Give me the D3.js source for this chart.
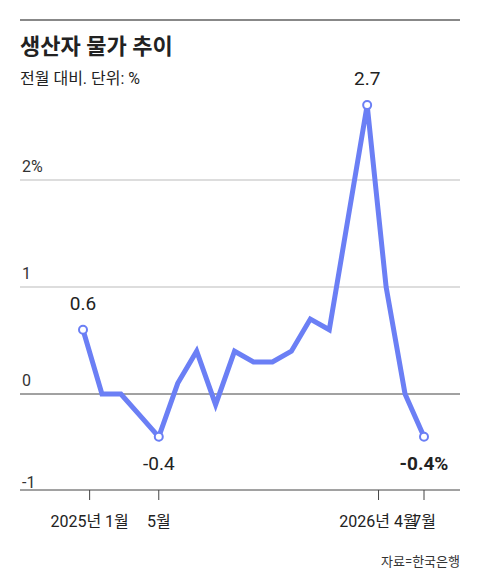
<!DOCTYPE html>
<html><head><meta charset="utf-8">
<script src="https://cdn.jsdelivr.net/npm/d3@7"></script>
<style>body{margin:0;background:#fff;font-family:Roboto,"Noto Sans CJK KR",sans-serif}</style>
</head><body><div id="chart"></div>
<script>
// monthly values, 2025-01 .. 2026-07
const months = d3.range(19);
const values = [0.6, 0.0, 0.0, -0.2, -0.4, 0.1, 0.4, -0.1, 0.4, 0.3, 0.3, 0.4, 0.7, 0.6, 1.65, 2.7, 1.0, 0.0, -0.4];
const yTicks = [0, 1, 2];
const yTickLabels = ["0", "1", "2%"];
const xTicks = [0.35, 4, 15.6, 18];
const xTickLabels = ["2025년 1월", "5월", "2026년 4월", "7월"];
const marked = [0, 4, 15, 18];

const width = 480, height = 586;
const svg = d3.select("#chart").append("svg").attr("width", width).attr("height", height);

const x = d3.scaleLinear().domain([0, 18]).range([83, 424]);
const y = d3.scaleLinear().domain([0, 1]).range([394, 287]);

svg.append("line").attr("x1", 20).attr("x2", 460).attr("y1", 20).attr("y2", 20)
    .attr("stroke", "#888").attr("stroke-width", 2);
svg.append("text").text("생산자 물가 추이").attr("x", 20).attr("y", 54)
    .attr("font-size", 22).attr("font-weight", "bold").attr("fill", "#222");
svg.append("text").text("전월 대비. 단위: %").attr("x", 20).attr("y", 84)
    .attr("font-size", 16).attr("fill", "#222");

// grid
svg.append("g").selectAll("line").data(yTicks).enter().append("line")
    .attr("x1", 20).attr("x2", 460)
    .attr("y1", d => y(d)).attr("y2", d => y(d))
    .attr("stroke", d => d === 0 ? "#444" : "#bbb").attr("stroke-width", 1);
svg.append("g").selectAll("text").data(yTicks).enter().append("text")
    .text((d, i) => yTickLabels[i])
    .attr("x", 22).attr("y", d => y(d) - 8)
    .attr("font-size", 16).attr("fill", "#333");

// x axis (doubles as the -1 line)
svg.append("line").attr("x1", 20).attr("x2", 460).attr("y1", 490).attr("y2", 490).attr("stroke", "#444");
svg.append("text").text("-1").attr("x", 22).attr("y", 488).attr("font-size", 16).attr("fill", "#333");
svg.append("g").selectAll("line").data(xTicks).enter().append("line")
    .attr("x1", d => x(d)).attr("x2", d => x(d)).attr("y1", 490).attr("y2", 500).attr("stroke", "#444");
svg.append("g").selectAll("text").data(xTicks).enter().append("text")
    .text((d, i) => xTickLabels[i])
    .attr("x", d => x(d)).attr("y", 527).attr("text-anchor", "middle")
    .attr("font-size", 16).attr("fill", "#222");

const line = d3.line().x((d, i) => x(months[i])).y(d => y(d));
svg.append("path").datum(values).attr("d", line)
    .attr("fill", "none").attr("stroke", "#6b7ff5").attr("stroke-width", 5)
    .attr("stroke-linejoin", "miter");

svg.append("g").selectAll("circle").data(marked).enter().append("circle")
    .attr("cx", d => x(d)).attr("cy", d => y(values[d])).attr("r", 4)
    .attr("fill", "#fff").attr("stroke", "#6b7ff5").attr("stroke-width", 2);

// value labels
const labels = [
    { i: 0, t: "0.6", dy: -20, bold: false },
    { i: 4, t: "-0.4", dy: 33, bold: false },
    { i: 15, t: "2.7", dy: -20, bold: false },
    { i: 18, t: "-0.4%", dy: 33, bold: true }
];
svg.append("g").selectAll("text").data(labels).enter().append("text")
    .text(d => d.t)
    .attr("x", d => x(d.i)).attr("y", d => y(values[d.i]) + d.dy)
    .attr("text-anchor", "middle").attr("font-size", 19)
    .attr("font-weight", d => d.bold ? "bold" : "normal").attr("fill", "#222");

svg.append("text").text("자료=한국은행").attr("x", 460).attr("y", 566)
    .attr("text-anchor", "end").attr("font-size", 13).attr("fill", "#333");
</script>
</body></html>
